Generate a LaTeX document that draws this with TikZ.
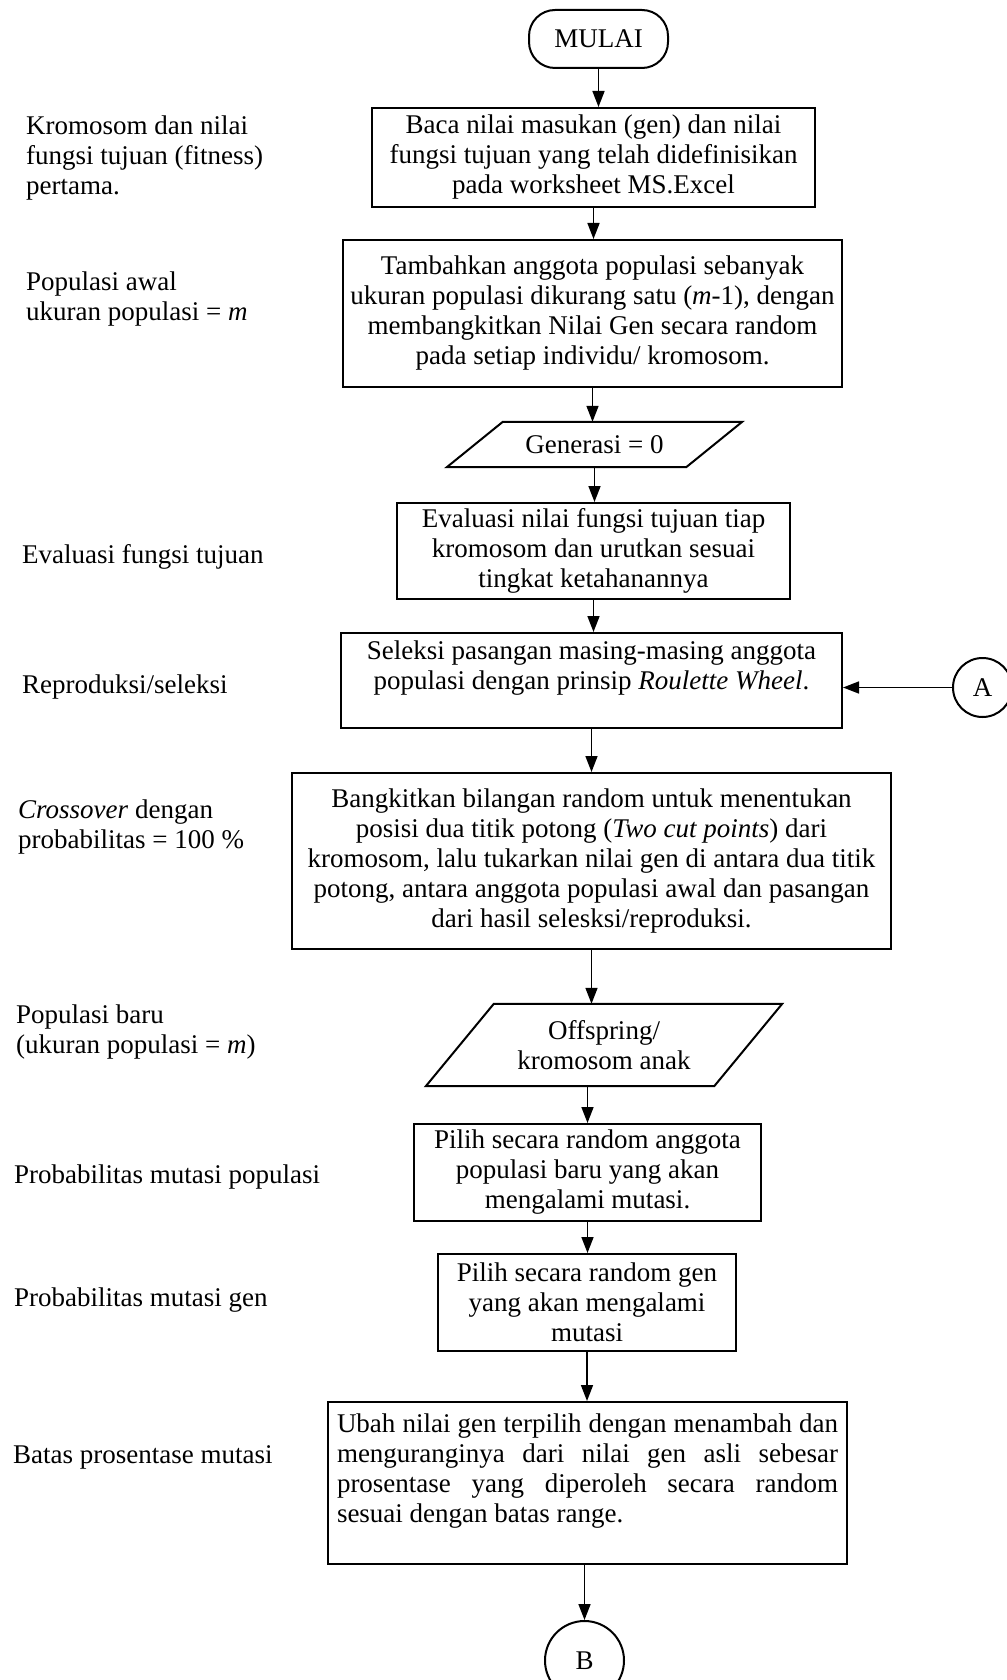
\documentclass[tikz,border=0pt]{standalone}
\usepackage{fontspec}
\setmainfont{Liberation Serif}
\usetikzlibrary{arrows.meta}

\begin{document}
\begin{tikzpicture}[
      x=1pt, y=-1pt,
      every node/.style={font=\fontsize{27}{30}\selectfont},
      box/.style={rectangle, draw=black, line width=2pt, align=center, inner sep=0pt},
      terminal/.style={box, rounded corners=26pt},
      io/.style={rectangle, align=center, inner sep=0pt},
      connector/.style={circle, draw=black, line width=2pt, inner sep=0pt},
      side/.style={anchor=west, align=left, inner sep=0pt},
      flow/.style={line width=1.6pt, -{Triangle[length=16pt, width=12pt]}},
      slant/.style={line width=2pt, line join=miter}
  ]
    \useasboundingbox (0,0) rectangle (1006,1680);

    \node[terminal, minimum width=139pt, minimum height=58pt] (mulai) at (598.5,39) {MULAI};
    \node[box, minimum width=443pt, minimum height=99pt] (baca) at (593.5,157.5) {Baca nilai masukan (gen) dan nilai\\fungsi tujuan yang telah didefinisikan\\pada worksheet MS.Excel};
    \node[box, minimum width=499pt, minimum height=147pt] (tambah) at (592.5,313.5) {Tambahkan anggota populasi sebanyak\\ukuran populasi dikurang satu (\textit{m}-1), dengan\\membangkitkan Nilai Gen secara random\\pada setiap individu/ kromosom.};
    \node[io, minimum width=239pt, minimum height=45pt] (gen) at (594.5,444.5) {Generasi = 0};
    \node[box, minimum width=393pt, minimum height=96pt] (eval) at (593.5,551) {Evaluasi nilai fungsi tujuan tiap\\kromosom dan urutkan sesuai\\tingkat ketahanannya};
    \node[box, minimum width=501pt, minimum height=95pt] (sel) at (591.5,680.5) {Seleksi pasangan masing-masing anggota\\populasi dengan prinsip \textit{Roulette Wheel}.\\\mbox{}};
    \node[connector, minimum size=59pt] (A) at (982.5,687.5) {A};
    \node[box, minimum width=599pt, minimum height=176pt] (bangkit) at (591.5,861) {Bangkitkan bilangan random untuk menentukan\\posisi dua titik potong (\textit{Two cut points}) dari\\kromosom, lalu tukarkan nilai gen di antara dua titik\\potong, antara anggota populasi awal dan pasangan\\dari hasil selesksi/reproduksi.};
    \node[io, minimum width=288pt, minimum height=82pt] (off) at (604,1045) {Offspring/\\kromosom anak};
    \node[box, minimum width=347pt, minimum height=97pt] (pilih1) at (587.5,1172.5) {Pilih secara random anggota\\populasi baru yang akan\\mengalami mutasi.};
    \node[box, minimum width=298pt, minimum height=97pt] (pilih2) at (587,1302.5) {Pilih secara random gen\\yang akan mengalami\\mutasi};
    \node[box, align=justify, text width=501pt, inner xsep=9pt, minimum height=162pt] (ubah) at (587.5,1483) {Ubah nilai gen terpilih dengan menambah dan\linebreak menguranginya dari nilai gen asli sebesar\linebreak prosentase yang diperoleh secara random\linebreak sesuai dengan batas range.\newline\mbox{}};
    \node[connector, minimum size=79pt] (B) at (584.5,1660.5) {B};

    \draw[slant] ([xshift=28pt]gen.north west) -- ([xshift=28pt]gen.north east) -- ([xshift=-28pt]gen.south east) -- ([xshift=-28pt]gen.south west) -- cycle;
    \draw[slant] ([xshift=34pt]off.north west) -- ([xshift=34pt]off.north east) -- ([xshift=-34pt]off.south east) -- ([xshift=-34pt]off.south west) -- cycle;

    \node[side] (lkrom) at (26,158) {Kromosom dan nilai\\fungsi tujuan (fitness)\\pertama.};
    \node[side] (lawal) at (26,299) {Populasi awal\\ukuran populasi = \textit{m}};
    \node[side] (leval) at (22,557) {Evaluasi fungsi tujuan};
    \node[side] (lrepro) at (22,687) {Reproduksi/seleksi};
    \node[side] (lcross) at (18,827) {\textit{Crossover} dengan\\probabilitas = 100 \%};
    \node[side] (lbaru) at (16,1032) {Populasi baru\\(ukuran populasi = \textit{m})};
    \node[side] (lmutpop) at (14,1177) {Probabilitas mutasi populasi};
    \node[side] (lmutgen) at (14,1300) {Probabilitas mutasi gen};
    \node[side] (lbatas) at (13,1457) {Batas prosentase mutasi};

    \foreach \a/\b in {mulai/baca, baca/tambah, tambah/gen, gen/eval, eval/sel, sel/bangkit, bangkit/off, pilih1/pilih2, pilih2/ubah} {
      \draw[flow] (\a.south) -- (\a.south |- \b.north);
    }
    \draw[flow] (pilih1.north |- off.south) -- (pilih1.north);
    \draw[flow] (B.north |- ubah.south) -- (B.north);
    \draw[flow] (A) -- (A -| sel.east);
  \end{tikzpicture}
\end{document}
